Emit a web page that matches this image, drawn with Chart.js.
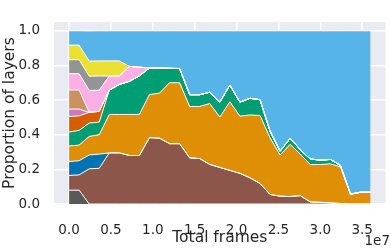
<!DOCTYPE html>
<html>
<head>
<meta charset="utf-8">
<script src="https://cdn.jsdelivr.net/npm/chart.js@4.4.0/dist/chart.umd.min.js"></script>
<style>
  html, body { margin: 0; padding: 0; background: #fff; }
</style>
</head>
<body>
<canvas id="layersChart" width="391" height="250"></canvas>
<script>
// training checkpoints (total frames)
const frames = [0, 1200000, 2400000, 3600000, 4800000, 6000000, 7200000, 8400000, 9600000, 10800000,
  12000000, 13200000, 14400000, 15600000, 16800000, 18000000, 19200000, 20400000, 21600000, 22800000,
  24000000, 25200000, 26400000, 27600000, 28800000, 30000000, 31200000, 32400000, 33600000, 34800000, 36000000];

// proportion of layers per group, bottom to top
const darkGray = [0.08, 0.08, 0, 0, 0, 0, 0, 0, 0, 0, 0, 0, 0, 0, 0, 0, 0, 0, 0, 0, 0, 0, 0, 0, 0, 0, 0, 0, 0, 0, 0];
const brown = [0.085, 0.088, 0.203, 0.206, 0.295, 0.295, 0.28, 0.28, 0.383, 0.38, 0.348, 0.348, 0.266, 0.262, 0.228, 0.211,
  0.194, 0.177, 0.151, 0.118, 0.055, 0.045, 0.043, 0.048, 0.012, 0.01, 0.006, 0.003, 0, 0, 0];
const blue = [0.08, 0.082, 0.08, 0.082, 0, 0, 0, 0, 0, 0, 0, 0, 0, 0, 0, 0, 0, 0, 0, 0, 0, 0, 0, 0, 0, 0, 0, 0, 0, 0, 0];
const orange = [0.09, 0.09, 0.107, 0.112, 0.222, 0.222, 0.237, 0.237, 0.249, 0.26, 0.352, 0.352, 0.297, 0.301, 0.352, 0.291,
  0.396, 0.33, 0.363, 0.393, 0.327, 0.238, 0.302, 0.24, 0.216, 0.218, 0.226, 0.211, 0.057, 0.068, 0.068];
const green = [0.08, 0.085, 0.077, 0.073, 0.14, 0.173, 0.191, 0.223, 0.153, 0.144, 0.083, 0.082, 0.068, 0.068, 0.065, 0.086,
  0.096, 0.081, 0.096, 0.091, 0.038, 0.022, 0.034, 0.026, 0.031, 0.026, 0.025, 0.009, 0, 0, 0];
const vermillion = [0.09, 0.084, 0.062, 0.062, 0, 0, 0, 0, 0, 0, 0, 0, 0, 0, 0, 0, 0, 0, 0, 0, 0, 0, 0, 0, 0, 0, 0, 0, 0, 0, 0];
const purple = [0.043, 0.039, 0, 0, 0, 0, 0, 0, 0, 0, 0, 0, 0, 0, 0, 0, 0, 0, 0, 0, 0, 0, 0, 0, 0, 0, 0, 0, 0, 0, 0];
const tan = [0.11, 0.11, 0, 0, 0, 0, 0, 0, 0, 0, 0, 0, 0, 0, 0, 0, 0, 0, 0, 0, 0, 0, 0, 0, 0, 0, 0, 0, 0, 0, 0];
const pink = [0.094, 0.094, 0.127, 0.122, 0.082, 0.049, 0.086, 0.05, 0, 0, 0, 0, 0, 0, 0, 0, 0, 0, 0, 0, 0, 0, 0, 0, 0, 0, 0, 0, 0, 0, 0];
const gray = [0.081, 0.081, 0.082, 0.082, 0, 0, 0, 0, 0, 0, 0, 0, 0, 0, 0, 0, 0, 0, 0, 0, 0, 0, 0, 0, 0, 0, 0, 0, 0, 0, 0];
const yellow = [0.084, 0.084, 0.087, 0.087, 0.087, 0.087, 0, 0, 0, 0, 0, 0, 0, 0, 0, 0, 0, 0, 0, 0, 0, 0, 0, 0, 0, 0, 0, 0, 0, 0, 0];
const skyBlue = [0.083, 0.083, 0.174, 0.174, 0.174, 0.174, 0.206, 0.21, 0.215, 0.216, 0.217, 0.218, 0.369, 0.369, 0.355, 0.412,
  0.314, 0.412, 0.39, 0.398, 0.58, 0.695, 0.621, 0.686, 0.741, 0.746, 0.743, 0.777, 0.943, 0.932, 0.932];

const xTicks = [0, 5000000, 10000000, 15000000, 20000000, 25000000, 30000000, 35000000];
const yTicks = [0, 0.2, 0.4, 0.6, 0.8, 1.0];

const layers = [
  [darkGray, '#595959'],
  [brown, '#8c564b'],
  [blue, '#0173b2'],
  [orange, '#de8f05'],
  [green, '#029e73'],
  [vermillion, '#d55e00'],
  [purple, '#cc78bc'],
  [tan, '#ca9161'],
  [pink, '#fbafe4'],
  [gray, '#949494'],
  [yellow, '#ece133'],
  [skyBlue, '#56b4e9']
];

const datasets = layers.map(([vals, color], i) => ({
  data: frames.map((f, j) => ({ x: f, y: vals[j] })),
  backgroundColor: color,
  borderColor: '#ffffff',
  borderWidth: 1,
  pointRadius: 0,
  tension: 0,
  fill: i === 0 ? 'origin' : '-1'
}));

const textColor = '#262626';
const fontFamily = '"DejaVu Sans", sans-serif';

const plotBackground = {
  id: 'plotBackground',
  beforeDraw(chart) {
    const { ctx, chartArea } = chart;
    ctx.save();
    ctx.fillStyle = '#eaeaf2';
    ctx.fillRect(chartArea.left, chartArea.top, chartArea.right - chartArea.left, chartArea.bottom - chartArea.top);
    ctx.restore();
  },
  afterDraw(chart) {
    // offset text of the x axis
    const { ctx } = chart;
    ctx.save();
    ctx.font = '13.5px ' + fontFamily;
    ctx.fillStyle = textColor;
    ctx.textAlign = 'right';
    ctx.textBaseline = 'alphabetic';
    ctx.fillText('1e7', 390, 245);
    ctx.restore();
  }
};

new Chart(document.getElementById('layersChart'), {
  type: 'line',
  data: { datasets },
  plugins: [plotBackground],
  options: {
    responsive: false,
    animation: false,
    devicePixelRatio: 1,
    layout: { padding: { top: 0, right: 1, bottom: 0, left: 0 } },
    plugins: {
      legend: { display: false },
      tooltip: { enabled: false },
      filler: { drawTime: 'beforeDatasetsDraw' }
    },
    scales: {
      x: {
        type: 'linear',
        min: -1800000,
        max: 37800000,
        afterBuildTicks: s => { s.ticks = xTicks.map(v => ({ value: v })); },
        afterFit: s => { s.height = 46; },
        grid: { color: '#ffffff', lineWidth: 1.6, drawTicks: false },
        border: { display: false },
        ticks: {
          autoSkip: false,
          maxRotation: 0,
          padding: 18,
          color: textColor,
          font: { family: fontFamily, size: 13.5 },
          callback: v => (v / 1e7).toFixed(1)
        },
        title: {
          display: true,
          text: 'Total frames',
          color: textColor,
          font: { family: fontFamily, size: 15.5 },
          padding: { top: 0, bottom: 3 }
        }
      },
      y: {
        stacked: true,
        min: 0,
        max: 1.05,
        afterBuildTicks: s => { s.ticks = yTicks.map(v => ({ value: v })); },
        afterFit: s => { s.width = 54; },
        grid: { color: '#ffffff', lineWidth: 1.6, drawTicks: false },
        border: { display: false },
        ticks: {
          padding: 14,
          color: textColor,
          font: { family: fontFamily, size: 13.5 },
          callback: v => v.toFixed(1)
        },
        title: {
          display: true,
          text: 'Proportion of layers',
          color: textColor,
          font: { family: fontFamily, size: 15.5 },
          padding: { top: 1, bottom: 0 }
        }
      }
    }
  }
});
</script>
</body>
</html>
